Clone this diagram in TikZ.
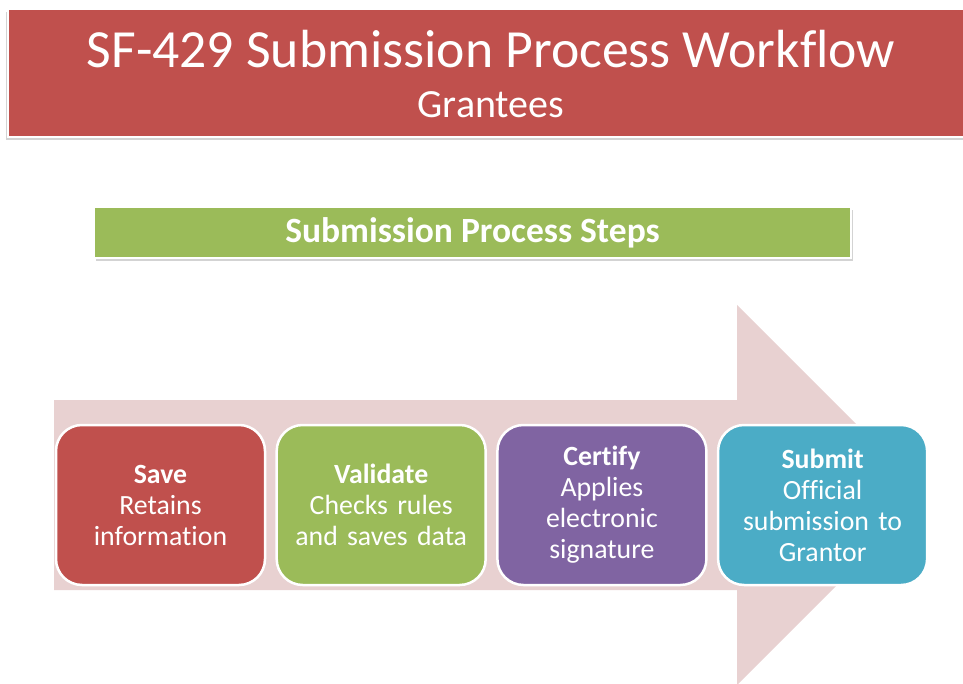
\documentclass[tikz,border=0pt]{standalone}
\usepackage{fontspec}
\setmainfont{Carlito}[Ligatures=NoCommon]
\usepackage{tikz}
\usetikzlibrary{positioning}
\usetikzlibrary{shapes,arrows,shadows,calc}

\definecolor{saved}{HTML}{C0504D}
\definecolor{valid}{HTML}{9BBB59}
\definecolor{certi}{HTML}{8064A2}
\definecolor{submi}{HTML}{4BACC6}
\definecolor{flow}{HTML}{E8D1D1}

\begin{document}
\begin{tikzpicture}[x=1pt,y=-1pt,
    stepbox/.style={rectangle, rounded corners=26pt, draw=white, line width=2.5pt,
        minimum width=209pt, minimum height=160pt, text width=200pt, align=center,
        text=white, font=\fontsize{27.8}{31}\selectfont},
    banner/.style={rectangle, draw=white, line width=2pt, text=white}]
    \useasboundingbox (0,0) rectangle (963,684);

    % header
    \fill[saved, draw=white, line width=1.5pt,
        drop shadow={shadow xshift=-2pt, shadow yshift=-3pt, opacity=0.35}]
        (8,9) rectangle (980,137);
    \node[text=white, font=\fontsize{53.7}{60}\selectfont] (title) at (491,49) {SF-429 Submission Process Workflow};
    \node[text=white, font=\fontsize{40}{46}\selectfont] (sub) at (491,105) {Grantees};

    % green bar
    \node[banner, fill=valid, minimum width=757pt, minimum height=51pt,
        font=\fontsize{35.5}{40}\selectfont\bfseries,
        drop shadow={shadow xshift=2pt, shadow yshift=-3pt, opacity=0.35}]
        (steps) at (472.5,232.5) {Submission Process Steps};

    % big arrow behind the steps
    \fill[flow] (54,400) -- (737,400) -- (737,305) -- (927,495)
        -- (737,685) -- (737,590) -- (54,590) -- cycle;

    \node[stepbox, fill=saved] (save) at (160.5,505) {\textbf{Save}\\Retains\\information};
    \node[stepbox, fill=valid, right=9.2pt of save] (validate) {\textbf{Validate}\\Checks rules\\and saves data};
    \node[stepbox, fill=certi, right=9.2pt of validate] (certify) {\textbf{Certify}\\Applies\\electronic\\signature};
    \node[stepbox, fill=submi, right=9.2pt of certify] (submit) {\textbf{Submit}\\Official\\submission to\\Grantor};
\end{tikzpicture}
\end{document}
